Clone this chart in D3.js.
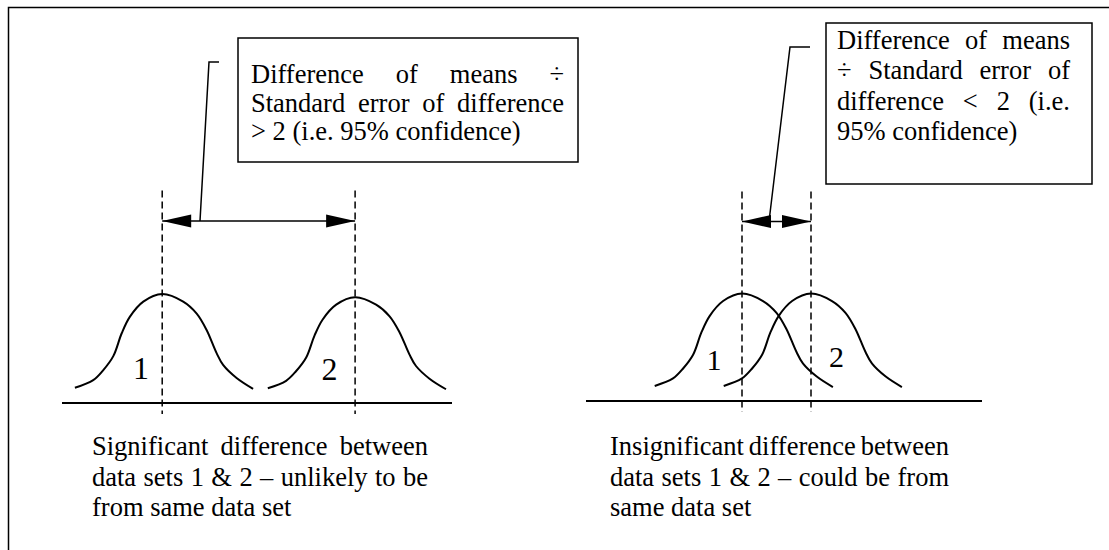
<!DOCTYPE html>
<html>
<head>
<meta charset="utf-8">
<script src="https://cdn.jsdelivr.net/npm/d3@7"></script>
<style>
  body { margin: 0; background: #fff; }
</style>
</head>
<body>
<script>
// one bell-curve outline:
// offset from the mean (curve units) and height relative to the peak
const bellOffsets = [-2.91, -2.3, -1.97, -1.63, -1.35, -1.08, -0.63, 0, 0.7, 1.15, 1.48, 1.81, 2.03, 2.48, 3.03];
const bellHeights = [0.14, 0.21, 0.30, 0.43, 0.64, 0.79, 0.93, 1, 0.93, 0.82, 0.67, 0.46, 0.35, 0.23, 0.13];

// means of data sets 1 & 2 (curve units along each axis) and peak heights
const sigMeans = [3.34, 9.77];
const sigPeaks = [1, 0.97];
const insigMeans = [5.2, 7.5];
const insigPeaks = [1, 1];
const setLabels = ["1", "2"];

const sigBoxLines = ["Difference of means ÷", "Standard error of difference", "> 2 (i.e. 95% confidence)"];
const insigBoxLines = ["Difference of means", "÷ Standard error of", "difference < 2 (i.e.", "95% confidence)"];
const sigCaption = ["Significant difference between", "data sets 1 & 2 – unlikely to be", "from same data set"];
const insigCaption = ["Insignificant difference between", "data sets 1 & 2 – could be from", "same data set"];

const w = 1109, h = 550;
const fontSize = 26.5;
const serif = "'Liberation Serif', 'Times New Roman', Tinos, 'DejaVu Serif', serif";

const svg = d3.select("body").append("svg")
    .attr("width", w)
    .attr("height", h)
    .attr("font-family", serif);

// outer frame (only top and left edges fall inside the picture)
svg.append("path")
    .attr("d", `M8.5,${h}V7.5H${w}`)
    .attr("fill", "none")
    .attr("stroke", "#000")
    .attr("stroke-width", 1.5);

const bell = bellOffsets.map((o, i) => [o, bellHeights[i]]);

const panels = [
  {means: sigMeans, peaks: sigPeaks, domain: [0, 13], range: [62, 452], base: 403, top: 294,
   labelDx: [-0.71, -0.85], labelH: [0.22, 0.21], labelSize: 32,
   leaderDx: 1.26, leaderTop: [209, 62], tickEnd: 219,
   box: [238, 38, 340, 124], boxLines: sigBoxLines, textX: [251, 564], textY: 83, lineGap: 28.5,
   caption: sigCaption, capX: [92, 428]},
  {means: insigMeans, peaks: insigPeaks, domain: [0, 13.2], range: [586, 982], base: 401, top: 293.5,
   labelDx: [-0.93, 0.85], labelH: [0.29, 0.32], labelSize: 30,
   leaderDx: 0.9, leaderTop: [790, 47], tickEnd: 810,
   box: [826, 23, 266, 161], boxLines: insigBoxLines, textX: [837, 1070], textY: 49, lineGap: 30.3,
   caption: insigCaption, capX: [610, 949]}
];

// place words of each line; all but the last line are justified
function setLines(lines, x0, x1, y0, gap, size) {
  lines.forEach((line, i) => {
    const words = line.split(" ");
    const y = y0 + i * gap;
    const nodes = words.map(t => svg.append("text")
        .attr("y", y)
        .attr("font-family", serif)
        .attr("font-size", size)
        .attr("fill", "#000")
        .text(t));
    const widths = nodes.map(n => n.node().getComputedTextLength());
    const justify = i < lines.length - 1 && words.length > 1;
    const space = justify ? (x1 - x0 - d3.sum(widths)) / (words.length - 1) : size * 0.25;
    let x = x0;
    nodes.forEach((n, j) => { n.attr("x", x); x += widths[j] + space; });
  });
}

function arrowHead(g, tipX, y, dir) {
  const len = 29, half = 6.5;
  g.append("path")
      .attr("d", `M${tipX},${y}L${tipX + dir * len},${y - half}L${tipX + dir * len},${y + half}Z`)
      .attr("fill", "#000");
}

panels.forEach(p => {
  const x = d3.scaleLinear().domain(p.domain).range(p.range);
  const y = d3.scaleLinear().domain([0, 1]).range([p.base, p.top]);
  const g = svg.append("g");

  // axis line
  g.append("line")
      .attr("x1", x(p.domain[0])).attr("x2", x(p.domain[1]))
      .attr("y1", y(0)).attr("y2", y(0))
      .attr("stroke", "#000").attr("stroke-width", 2);

  // bell curves
  p.means.forEach((m, i) => {
    const line = d3.line()
        .x(d => x(m + d[0]))
        .y(d => y(d[1] * p.peaks[i]))
        .curve(d3.curveCatmullRom);
    g.append("path")
        .datum(bell)
        .attr("d", line)
        .attr("fill", "none")
        .attr("stroke", "#000")
        .attr("stroke-width", 2);
  });

  // dashed mean lines
  g.selectAll("line.mean")
    .data(p.means)
    .join("line")
      .attr("class", "mean")
      .attr("x1", d => x(d)).attr("x2", d => x(d))
      .attr("y1", y(1.95)).attr("y2", y(-0.1))
      .attr("stroke", "#000")
      .attr("stroke-width", 1.5)
      .attr("stroke-dasharray", "7,4");

  // set labels
  g.selectAll("text.set")
    .data(setLabels)
    .join("text")
      .attr("class", "set")
      .attr("x", (d, i) => x(p.means[i] + p.labelDx[i]))
      .attr("y", (d, i) => y(p.labelH[i]))
      .attr("text-anchor", "middle")
      .attr("font-family", serif)
      .attr("font-size", p.labelSize)
      .text(d => d);

  // double arrow between the means
  const ay = y(1.67);
  const x1 = x(p.means[0]), x2 = x(p.means[1]);
  g.append("line")
      .attr("x1", x1).attr("x2", x2)
      .attr("y1", ay).attr("y2", ay)
      .attr("stroke", "#000").attr("stroke-width", 1.5);
  arrowHead(g, x1, ay, 1);
  arrowHead(g, x2, ay, -1);

  // leader to the call-out box
  g.append("path")
      .attr("d", `M${x(p.means[0] + p.leaderDx)},${ay}L${p.leaderTop[0]},${p.leaderTop[1]}H${p.tickEnd}`)
      .attr("fill", "none")
      .attr("stroke", "#000")
      .attr("stroke-width", 1.5);

  // call-out box
  const [bx, by, bw, bh] = p.box;
  g.append("rect")
      .attr("x", bx).attr("y", by)
      .attr("width", bw).attr("height", bh)
      .attr("fill", "#fff")
      .attr("stroke", "#000")
      .attr("stroke-width", 1.5);
  setLines(p.boxLines, p.textX[0], p.textX[1], p.textY, p.lineGap, fontSize);

  // caption
  setLines(p.caption, p.capX[0], p.capX[1], 455, 30.5, fontSize);
});
</script>
</body>
</html>
